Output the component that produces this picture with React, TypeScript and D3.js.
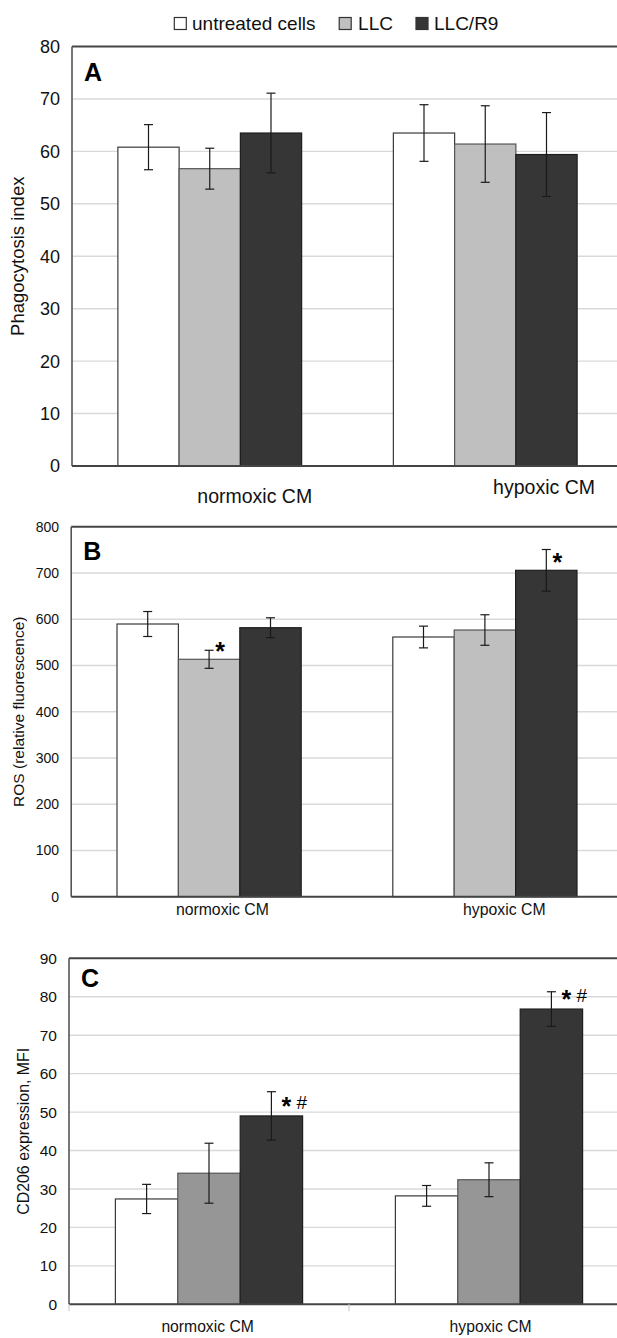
import React from 'react';
import * as d3 from 'd3';

// ---------- data ----------
const groups = ['normoxic CM', 'hypoxic CM'];
const series = ['untreated cells', 'LLC', 'LLC/R9'];

// Panel A – Phagocytosis index (rows = series, cols = groups)
const phagoMeans = [
  [60.8, 63.5],
  [56.7, 61.4],
  [63.5, 59.4],
];
const phagoErrors = [
  [4.3, 5.4],
  [3.9, 7.3],
  [7.6, 8.0],
];
const phagoTicks = [0, 10, 20, 30, 40, 50, 60, 70, 80];

// Panel B – ROS (relative fluorescence)
const rosMeans = [
  [589.6, 561.5],
  [513.3, 576.6],
  [581.6, 705.7],
];
const rosErrors = [
  [27, 23.5],
  [19.5, 33],
  [21.5, 45],
];
const rosTicks = [0, 100, 200, 300, 400, 500, 600, 700, 800];
const rosMarks = [
  { group: 0, series: 1, star: true, hash: false },
  { group: 1, series: 2, star: true, hash: false },
];

// Panel C – CD206 expression, MFI
const cdMeans = [
  [27.4, 28.2],
  [34.1, 32.4],
  [49.0, 76.8],
];
const cdErrors = [
  [3.8, 2.7],
  [7.8, 4.4],
  [6.3, 4.5],
];
const cdTicks = [0, 10, 20, 30, 40, 50, 60, 70, 80, 90];
const cdMarks = [
  { group: 0, series: 2, star: true, hash: true },
  { group: 1, series: 2, star: true, hash: true },
];

// ---------- layout / style ----------
const FONT = '"Liberation Sans", Arial, Helvetica, sans-serif';
const W = 617;
const H = 1338;

type Mark = { group: number; series: number; star: boolean; hash: boolean };
type PanelCfg = {
  letter: string;
  means: number[][];
  errors: number[][];
  ticks: number[];
  marks: Mark[];
  top: number;
  bottom: number;
  axisX: number;
  stepW: number;
  barW: number;
  gray: string;
  tickFont: number;
  tickX: number;
  title: string;
  titleFont: number;
  titleX: number;
  labelFont: number;
  labelDx: number[];
  labelY: number[];
  letterY: number;
  markDx: number;
  markDy: number;
  sepTicks: boolean;
};

const panels: PanelCfg[] = [
  {
    letter: 'A', means: phagoMeans, errors: phagoErrors, ticks: phagoTicks, marks: [],
    top: 46.5, bottom: 466, axisX: 72, stepW: 275.5, barW: 61.25, gray: '#bfbfbf',
    tickFont: 18, tickX: 60, title: 'Phagocytosis index', titleFont: 18.5, titleX: 19,
    labelFont: 19.5, labelDx: [45, 58.8], labelY: [502.5, 494], letterY: 81,
    markDx: 11, markDy: 12, sepTicks: false,
  },
  {
    letter: 'B', means: rosMeans, errors: rosErrors, ticks: rosTicks, marks: rosMarks,
    top: 526.7, bottom: 896.7, axisX: 71.2, stepW: 275.8, barW: 61.4, gray: '#bfbfbf',
    tickFont: 14, tickX: 59, title: 'ROS (relative fluorescence)', titleFont: 15.5, titleX: 19.6,
    labelFont: 15.8, labelDx: [13.3, 19.4], labelY: [915, 915], letterY: 560,
    markDx: 11, markDy: 12, sepTicks: false,
  },
  {
    letter: 'C', means: cdMeans, errors: cdErrors, ticks: cdTicks, marks: cdMarks,
    top: 958.3, bottom: 1304.3, axisX: 69, stepW: 280, barW: 62.4, gray: '#969696',
    tickFont: 15.5, tickX: 57, title: 'CD206 expression, MFI', titleFont: 15.9, titleX: 24.6,
    labelFont: 15.7, labelDx: [-1.4, 1.6], labelY: [1332, 1332], letterY: 987.3,
    markDx: 15, markDy: 14, sepTicks: true,
  },
];

const barStroke = ['#3a3a3a', '#555555', '#1e1e1e'];

function Panel({ cfg }: { cfg: PanelCfg }) {
  const yMax = cfg.ticks[cfg.ticks.length - 1];
  const y = d3.scaleLinear().domain([0, yMax]).range([cfg.bottom, cfg.top]);
  const xg = d3
    .scalePoint<string>()
    .domain(groups)
    .range([cfg.axisX, cfg.axisX + 2 * cfg.stepW])
    .padding(0.5);
  const xs = d3
    .scaleBand<string>()
    .domain(series)
    .range([-1.5 * cfg.barW, 1.5 * cfg.barW]);
  const fills = ['#ffffff', cfg.gray, '#363636'];
  const cap = 4.5;
  const midY = (cfg.top + cfg.bottom) / 2;

  return (
    <g>
      {/* gridlines */}
      {cfg.ticks.slice(1, -1).map((t) => (
        <line key={'g' + t} x1={cfg.axisX} x2={W} y1={y(t)} y2={y(t)} stroke="#d9d9d9" strokeWidth={1.4} />
      ))}
      {/* top border */}
      <line x1={cfg.axisX} x2={W} y1={y(yMax)} y2={y(yMax)} stroke="#444" strokeWidth={2} />
      {/* bars */}
      {series.map((s, si) =>
        groups.map((g, gi) => {
          const x0 = (xg(g) as number) + (xs(s) as number);
          const v = cfg.means[si][gi];
          return (
            <rect
              key={s + g}
              x={x0}
              y={y(v)}
              width={xs.bandwidth()}
              height={y(0) - y(v)}
              fill={fills[si]}
              stroke={barStroke[si]}
              strokeWidth={1.2}
            />
          );
        })
      )}
      {/* error bars */}
      {series.map((s, si) =>
        groups.map((g, gi) => {
          const cx = (xg(g) as number) + (xs(s) as number) + xs.bandwidth() / 2;
          const v = cfg.means[si][gi];
          const e = cfg.errors[si][gi];
          return (
            <g key={'e' + s + g} stroke="#1a1a1a" strokeWidth={1.2}>
              <line x1={cx} x2={cx} y1={y(v + e)} y2={y(v - e)} />
              <line x1={cx - cap} x2={cx + cap} y1={y(v + e)} y2={y(v + e)} />
              <line x1={cx - cap} x2={cx + cap} y1={y(v - e)} y2={y(v - e)} />
            </g>
          );
        })
      )}
      {/* axes */}
      <line x1={cfg.axisX} x2={cfg.axisX} y1={y(yMax)} y2={y(0)} stroke="#555" strokeWidth={1.6} />
      <line x1={cfg.axisX} x2={W} y1={y(0)} y2={y(0)} stroke="#444" strokeWidth={2} />
      {cfg.sepTicks && (
        <g stroke="#cfcfcf" strokeWidth={1.2}>
          <line x1={cfg.axisX} x2={cfg.axisX} y1={y(0)} y2={y(0) + 7} />
          <line x1={cfg.axisX + cfg.stepW} x2={cfg.axisX + cfg.stepW} y1={y(0)} y2={y(0) + 7} />
        </g>
      )}
      {/* tick labels */}
      {cfg.ticks.map((t) => (
        <text
          key={'t' + t}
          x={cfg.tickX}
          y={y(t)}
          dy="0.36em"
          textAnchor="end"
          fontSize={cfg.tickFont}
          fontFamily={FONT}
          fill="#111"
        >
          {t}
        </text>
      ))}
      {/* y title */}
      <text
        transform={`translate(${cfg.titleX},${midY}) rotate(-90)`}
        textAnchor="middle"
        dominantBaseline="middle"
        fontSize={cfg.titleFont}
        fontFamily={FONT}
        fill="#111"
      >
        {cfg.title}
      </text>
      {/* category labels */}
      {groups.map((g, gi) => (
        <text
          key={'l' + g}
          x={(xg(g) as number) + cfg.labelDx[gi]}
          y={cfg.labelY[gi]}
          textAnchor="middle"
          fontSize={cfg.labelFont}
          fontFamily={FONT}
          fill="#111"
        >
          {g}
        </text>
      ))}
      {/* panel letter */}
      <text x={cfg.axisX + 12} y={cfg.letterY} fontSize={25} fontWeight="bold" fontFamily={FONT} fill="#000">
        {cfg.letter}
      </text>
      {/* significance marks */}
      {cfg.marks.map((m, i) => {
        const cx =
          (xg(groups[m.group]) as number) +
          (xs(series[m.series]) as number) +
          xs.bandwidth() / 2 +
          cfg.markDx;
        const cy = y(cfg.means[m.series][m.group]) - cfg.markDy;
        return (
          <g key={'m' + i}>
            {m.star && (
              <text x={cx} y={cy + 13} textAnchor="middle" fontSize={25} fontWeight="bold" fontFamily={FONT} fill="#000">
                *
              </text>
            )}
            {m.hash && (
              <text x={cx + 10} y={cy + 7} textAnchor="start" fontSize={19} fontFamily={FONT} fill="#000">
                #
              </text>
            )}
          </g>
        );
      })}
    </g>
  );
}

const legendSwatchX = [174.3, 339.2, 416];
const legendTextX = [192, 358.1, 434];
const legendFills = ['#ffffff', '#c0c0c0', '#363636'];

export default function App() {
  return (
    <svg
      width={W}
      height={H}
      viewBox={`0 0 ${W} ${H}`}
      style={{ position: 'absolute', left: 0, top: 0, background: '#fff' }}
    >
      <rect x={0} y={0} width={W} height={H} fill="#fff" />
      {/* legend */}
      {series.map((s, i) => (
        <g key={'lg' + s}>
          <rect x={legendSwatchX[i]} y={17.5} width={12} height={12} fill={legendFills[i]} stroke="#333" strokeWidth={1.2} />
          <text x={legendTextX[i]} y={30} fontSize={19} fontFamily={FONT} fill="#111">
            {s}
          </text>
        </g>
      ))}
      {panels.map((p) => (
        <Panel key={p.letter} cfg={p} />
      ))}
    </svg>
  );
}
